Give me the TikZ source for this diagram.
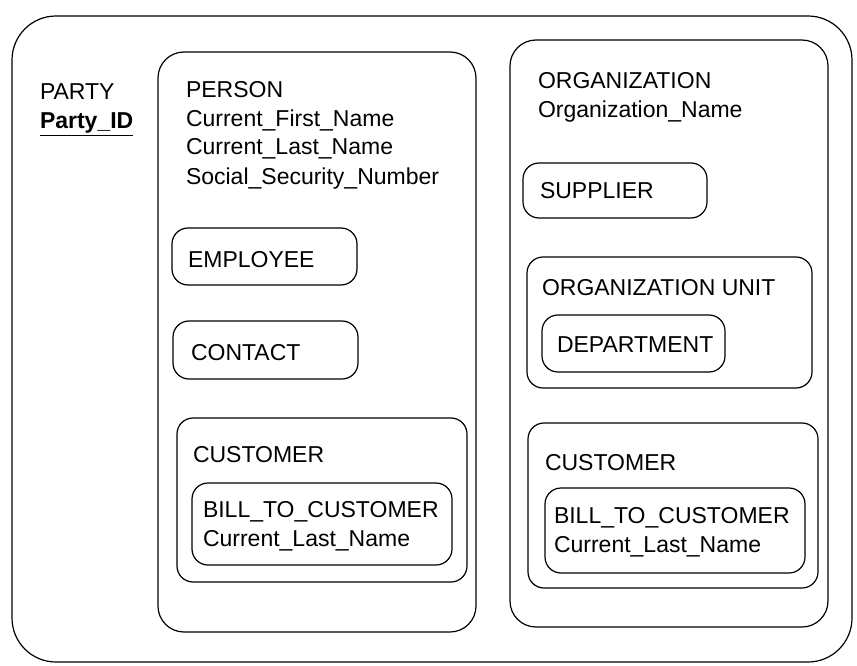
\documentclass[tikz,border=0pt]{standalone}
\usepackage{fontspec}
\setmainfont{Liberation Sans}
\begin{document}
\begin{tikzpicture}[x=1pt,y=-1pt,
  every node/.style={inner sep=0pt, outer sep=0pt},
  bigbox/.style={draw, line width=1.2pt, rounded corners=26pt, anchor=north west},
  rbox/.style={draw, line width=1.2pt, rounded corners=16pt, anchor=north west},
  txt/.style={anchor=base west, align=left, font=\fontsize{23}{29}\selectfont}]
\useasboundingbox (0,0) rectangle (857,666);
% outer PARTY box
\node[draw, line width=1.2pt, rounded corners=44pt, anchor=north west,
  minimum width=840pt, minimum height=646pt] (party) at (12,16) {};
% multi-line texts: the anchor is the baseline of the last line
\node[txt] (partyt) at (40,129) {PARTY\\\textbf{\underline{Party\_ID}}};
% PERSON
\node[bigbox, minimum width=318pt, minimum height=580pt] (person) at (158,52) {};
\node[txt] (persont) at (186,184) {PERSON\\Current\_First\_Name\\Current\_Last\_Name\\Social\_Security\_Number};
\node[rbox, minimum width=185pt, minimum height=57pt] (employee) at (172,228) {};
\node[txt] (employeet) at (188,267) {EMPLOYEE};
\node[rbox, minimum width=185pt, minimum height=58pt] (contact) at (173,321) {};
\node[txt] (contactt) at (191,360) {CONTACT};
\node[rbox, minimum width=290pt, minimum height=164pt] (pcust) at (177,418) {};
\node[txt] (pcustt) at (193,462) {CUSTOMER};
\node[rbox, minimum width=260pt, minimum height=82pt] (pbill) at (192,483) {};
\node[txt] (pbillt) at (203,546) {BILL\_TO\_CUSTOMER\\Current\_Last\_Name};
% ORGANIZATION
\node[bigbox, minimum width=318pt, minimum height=587pt] (org) at (510,40) {};
\node[txt] (orgt) at (538,118) {ORGANIZATION\\Organization\_Name};
\node[rbox, minimum width=184pt, minimum height=55pt] (supplier) at (523,163) {};
\node[txt] (suppliert) at (540,198) {SUPPLIER};
\node[rbox, minimum width=285pt, minimum height=131pt] (ounit) at (527,257) {};
\node[txt] (ounitt) at (542,295) {ORGANIZATION UNIT};
\node[rbox, minimum width=183pt, minimum height=57pt] (dept) at (542,315) {};
\node[txt] (deptt) at (557,352) {DEPARTMENT};
\node[rbox, minimum width=290pt, minimum height=165pt] (ocust) at (528,423) {};
\node[txt] (ocustt) at (545,470) {CUSTOMER};
\node[rbox, minimum width=260pt, minimum height=85pt] (obill) at (545,488) {};
\node[txt] (obillt) at (554,552) {BILL\_TO\_CUSTOMER\\Current\_Last\_Name};
\end{tikzpicture}
\end{document}
